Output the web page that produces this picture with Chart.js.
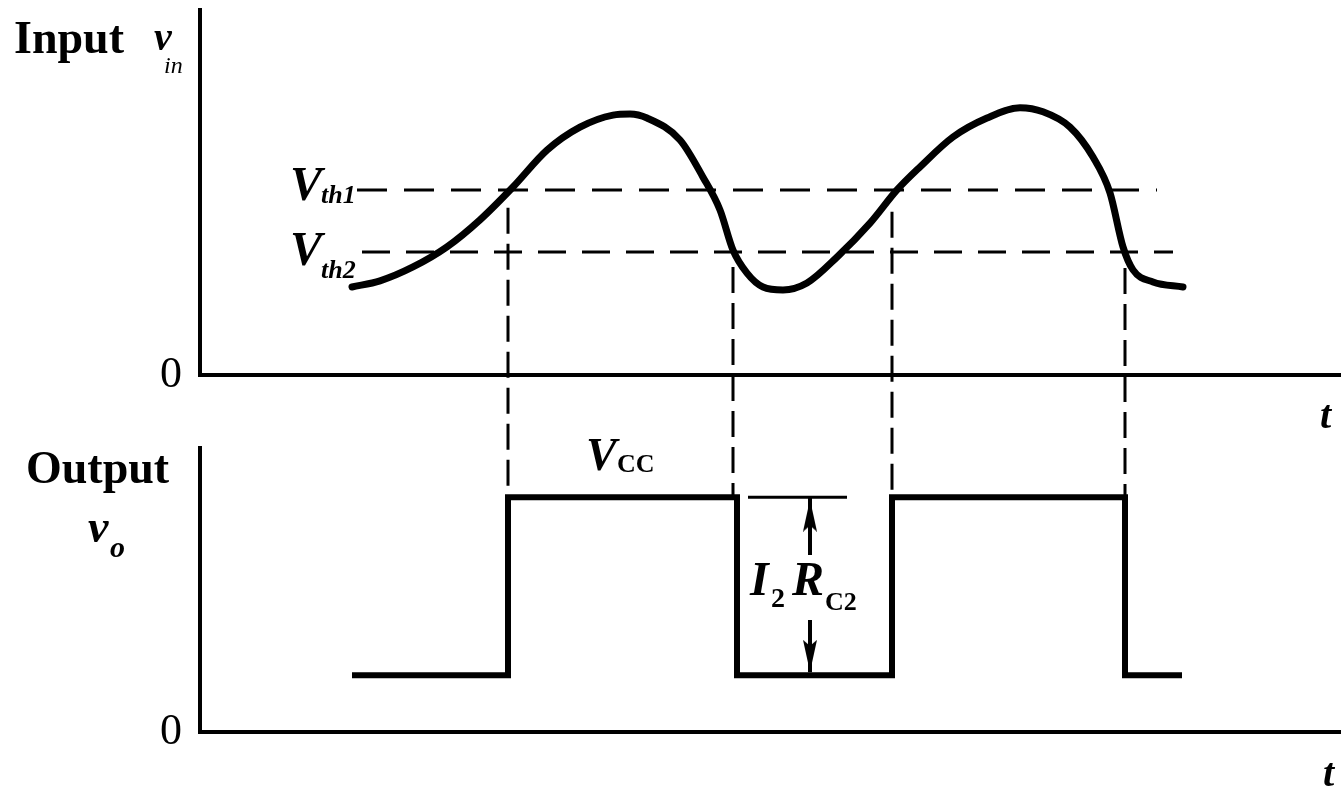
<!DOCTYPE html>
<html>
<head>
<meta charset="utf-8">
<script src="https://cdn.jsdelivr.net/npm/chart.js@4.4.1/dist/chart.umd.min.js"></script>
<style>
  html, body { margin: 0; padding: 0; background: #fff; }
  #wrap { position: relative; width: 1341px; height: 788px; }
  #wrap canvas { position: absolute; left: 0; top: 0; }
</style>
</head>
<body>
<div id="wrap">
  <canvas id="inputChart" width="1341" height="788"></canvas>
  <canvas id="outputChart" width="1341" height="788"></canvas>
</div>
<script>
// time in arbitrary units (0..114), voltages in arbitrary units (0..10)
const inputTimes = [15.2, 18.0, 21.3, 24.7, 28.0, 31.3, 34.7, 38.0, 41.3, 43.0, 44.7, 48.0, 50.3, 52.0, 53.3, 54.7, 56.3, 58.3,
                    60.7, 63.7, 67.0, 69.7, 72.0, 75.3, 78.7, 82.0, 84.3, 87.0, 89.3, 91.0, 92.3, 93.3, 95.3, 98.3];
const inputVolts = [2.41, 2.58, 2.96, 3.51, 4.25, 5.15, 6.16, 6.79, 7.12, 7.15, 7.04, 6.44, 5.42, 4.52, 3.42, 2.79, 2.41, 2.33,
                    2.52, 3.23, 4.16, 5.07, 5.70, 6.52, 7.04, 7.32, 7.21, 6.79, 5.97, 4.99, 3.51, 2.88, 2.55, 2.41];

const vth1 = 5.07;
const vth2 = 3.37;
const vth1Span = [15.7, 95.7];
const vth2Span = [16.2, 97.3];

// dashed drop lines at the switching instants
const switchTimes = [30.8, 53.3, 69.2, 92.5];
const switchFrom = [4.58, 2.96, 4.47, 2.93];
const dropTo = -3.34; // output high level, in input-axis units

// output square wave (stepped)
const vLow = 2.0;
const vHigh = 8.27;
const outputTimes = [15.2, 30.8, 53.7, 69.2, 92.5, 98.2];
const outputLevels = [vLow, vHigh, vLow, vHigh, vLow, vLow];

// I2*RC2 swing marker
const swingTime = 61;
const swingRefSpan = [54.8, 64.7];
const swingShaftTop = [vHigh, 6.23];
const swingShaftBottom = [3.94, 2.1];
const arrowUpAt = 7.62;
const arrowDownAt = 2.68;

const SERIF = '"Liberation Serif", "DejaVu Serif", serif';

function xy(xs, ys) {
  return xs.map((x, i) => ({ x: x, y: ys[i] }));
}

function text(ctx, str, x, y, font) {
  ctx.font = font;
  ctx.fillText(str, x, y);
}

function arrowHead(w, h) {
  const c = document.createElement('canvas');
  c.width = w;
  c.height = h;
  const g = c.getContext('2d');
  g.fillStyle = '#000';
  g.beginPath();
  g.moveTo(w / 2, 0);
  g.lineTo(w, h);
  g.lineTo(w / 2, h - 6);
  g.lineTo(0, h);
  g.closePath();
  g.fill();
  return c;
}

function noPad(s) {
  s.paddingTop = 0;
  s.paddingBottom = 0;
  s.paddingLeft = 0;
  s.paddingRight = 0;
}

function baseOptions(pad, axisWidth) {
  return {
    responsive: false,
    animation: false,
    layout: { padding: pad, autoPadding: false },
    elements: { point: { radius: 0 }, line: { borderColor: '#000', fill: false } },
    plugins: { legend: { display: false }, tooltip: { enabled: false } },
    scales: {
      x: {
        type: 'linear', min: 0, max: 114.1,
        grid: { display: false },
        ticks: { display: false },
        border: { color: '#000', width: 4 },
        afterFit: (s) => { s.height = 0; noPad(s); }
      },
      y: {
        min: 0, max: 10,
        grid: { display: false, drawTicks: false },
        border: { color: '#000', width: 4 },
        ticks: { padding: 18, color: '#000', font: { family: SERIF, size: 44 } },
        afterBuildTicks: (s) => { s.ticks = [{ value: 0 }]; },
        afterFit: (s) => { s.width = axisWidth; noPad(s); }
      }
    }
  };
}

// ---------- input chart ----------
const inputLabels = {
  id: 'inputLabels',
  afterDraw(chart) {
    const ctx = chart.ctx;
    const y = chart.scales.y;
    ctx.save();
    ctx.fillStyle = '#000';
    ctx.textBaseline = 'alphabetic';
    text(ctx, 'Input', 14, 53, 'bold 46px ' + SERIF);
    text(ctx, 'v', 154, 50, 'bold italic 40px ' + SERIF);
    text(ctx, 'in', 164, 73, 'italic 24px ' + SERIF);
    text(ctx, 'V', 290, y.getPixelForValue(vth1) + 10, 'bold italic 48px ' + SERIF);
    text(ctx, 'th1', 321, y.getPixelForValue(vth1) + 13, 'bold italic 26px ' + SERIF);
    text(ctx, 'V', 290, y.getPixelForValue(vth2) + 13, 'bold italic 48px ' + SERIF);
    text(ctx, 'th2', 321, y.getPixelForValue(vth2) + 26, 'bold italic 26px ' + SERIF);
    text(ctx, 't', 1320, 428, 'bold italic 40px ' + SERIF);
    ctx.restore();
  }
};

const dropLines = switchTimes.map((t, i) => ({
  data: [{ x: t, y: switchFrom[i] }, { x: t, y: dropTo }],
  borderWidth: 3,
  borderDash: [26, 10],
  clip: false
}));

new Chart(document.getElementById('inputChart'), {
  type: 'line',
  data: {
    datasets: [
      { data: xy(inputTimes, inputVolts), borderWidth: 7, cubicInterpolationMode: 'monotone', borderCapStyle: 'round' },
      { data: [{ x: vth1Span[0], y: vth1 }, { x: vth1Span[1], y: vth1 }], borderWidth: 3, borderDash: [30, 17] },
      { data: [{ x: vth2Span[0], y: vth2 }, { x: vth2Span[1], y: vth2 }], borderWidth: 3, borderDash: [28, 16] },
      ...dropLines
    ]
  },
  options: baseOptions({ top: 10, bottom: 413, left: 0, right: 0 }, 200),
  plugins: [inputLabels]
});

// ---------- output chart ----------
const outputLabels = {
  id: 'outputLabels',
  afterDraw(chart) {
    const ctx = chart.ctx;
    ctx.save();
    ctx.fillStyle = '#000';
    ctx.textBaseline = 'alphabetic';
    text(ctx, 'Output', 26, 483, 'bold 46px ' + SERIF);
    text(ctx, 'v', 88, 542, 'bold italic 46px ' + SERIF);
    text(ctx, 'o', 110, 557, 'bold italic 30px ' + SERIF);
    text(ctx, 'V', 586, 470, 'bold italic 46px ' + SERIF);
    text(ctx, 'CC', 617, 472, 'bold 26px ' + SERIF);
    text(ctx, 'I', 750, 595, 'bold italic 48px ' + SERIF);
    text(ctx, '2', 771, 607, 'bold 28px ' + SERIF);
    text(ctx, 'R', 792, 595, 'bold italic 48px ' + SERIF);
    text(ctx, 'C2', 825, 610, 'bold 26px ' + SERIF);
    text(ctx, 't', 1323, 786, 'bold italic 40px ' + SERIF);
    ctx.restore();
  }
};

const head = arrowHead(14, 32);

new Chart(document.getElementById('outputChart'), {
  type: 'line',
  data: {
    datasets: [
      { data: xy(outputTimes, outputLevels), borderWidth: 6, stepped: true, borderJoinStyle: 'miter' },
      { data: [{ x: swingRefSpan[0], y: vHigh }, { x: swingRefSpan[1], y: vHigh }], borderWidth: 3 },
      { data: [{ x: swingTime, y: swingShaftTop[0] }, { x: swingTime, y: swingShaftTop[1] }], borderWidth: 4 },
      { data: [{ x: swingTime, y: swingShaftBottom[0] }, { x: swingTime, y: swingShaftBottom[1] }], borderWidth: 4 },
      { data: [{ x: swingTime, y: arrowUpAt }], showLine: false, pointStyle: head, pointRadius: 10 },
      { data: [{ x: swingTime, y: arrowDownAt }], showLine: false, pointStyle: head, pointRadius: 10, pointRotation: 180 }
    ]
  },
  options: baseOptions({ top: 448, bottom: 56, left: 0, right: 0 }, 200),
  plugins: [outputLabels]
});
</script>
</body>
</html>
